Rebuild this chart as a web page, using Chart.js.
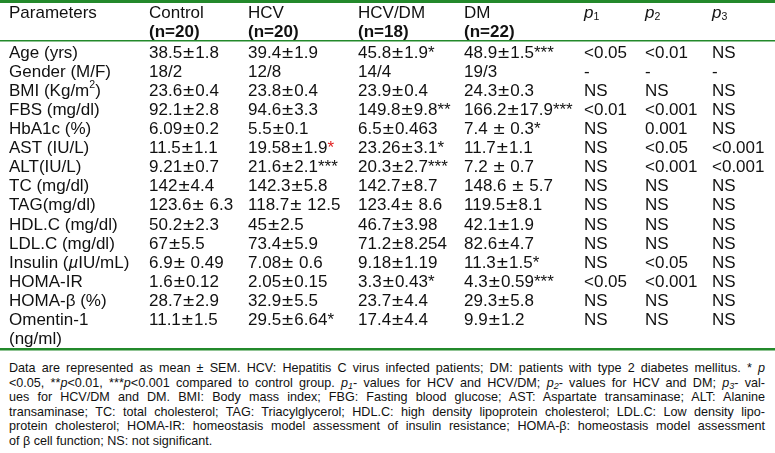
<!DOCTYPE html>
<html>
<head>
<meta charset="utf-8">
<script src="https://cdn.jsdelivr.net/npm/chart.js@4.4.1/dist/chart.umd.min.js"></script>
<style>
  body { margin: 0; background: #fff; width: 775px; height: 453px; overflow: hidden; font-family: "Liberation Sans", Arial, sans-serif; }
  #wrap { position: relative; width: 775px; height: 352px; }
  #note { position: absolute; left: 9px; top: 361px; width: 756px; font-size: 12.6px; line-height: 14.6px; color: #111; }
  #note div { text-align: justify; text-align-last: justify; }
  #note div.last { text-align-last: left; }
  #note sub { font-size: 9px; vertical-align: -2px; line-height: 0; }
</style>
</head>
<body>
<div id="wrap"><canvas id="tbl" width="775" height="352"></canvas></div>
<div id="note">
  <div>Data are represented as mean ± SEM. HCV: Hepatitis C virus infected patients; DM: patients with type 2 diabetes mellitus. * <i>p</i></div>
  <div>&lt;0.05, **<i>p</i>&lt;0.01, ***<i>p</i>&lt;0.001 compared to control group. <i>p<sub>1</sub></i>- values for HCV and HCV/DM; <i>p<sub>2</sub></i>- values for HCV and DM; <i>p<sub>3</sub></i>- val-</div>
  <div>ues for HCV/DM and DM. BMI: Body mass index; FBG: Fasting blood glucose; AST: Aspartate transaminase; ALT: Alanine</div>
  <div>transaminase; TC: total cholesterol; TAG: Triacylglycerol; HDL.C: high density lipoprotein cholesterol; LDL.C: Low density lipo-</div>
  <div>protein cholesterol; HOMA-IR: homeostasis model assessment of insulin resistance; HOMA-β: homeostasis model assessment</div>
  <div class="last">of β cell function; NS: not significant.</div>
</div>
<script>
// table content  (^{..} superscript, _{..} subscript, $i{..} italic, $r{..} red)
const headers = ["Parameters", "Control", "HCV", "HCV/DM", "DM", "$i{p}_{1}", "$i{p}_{2}", "$i{p}_{3}"];
const groupSizes = ["", "(n=20)", "(n=20)", "(n=18)", "(n=22)", "", "", ""];
const parameters = ["Age (yrs)", "Gender (M/F)", "BMI (Kg/m^{2})", "FBS (mg/dl)", "HbA1c (%)", "AST (IU/L)", "ALT(IU/L)",
    "TC (mg/dl)", "TAG(mg/dl)", "HDL.C (mg/dl)", "LDL.C (mg/dl)", "Insulin ($i{µ}IU/mL)", "HOMA-IR", "HOMA-β (%)", "Omentin-1\n(ng/ml)"];
const control = ["38.5±1.8", "18/2", "23.6±0.4", "92.1±2.8", "6.09±0.2", "11.5±1.1", "9.21±0.7", "142±4.4", "123.6± 6.3",
    "50.2±2.3", "67±5.5", "6.9± 0.49", "1.6±0.12", "28.7±2.9", "11.1±1.5"];
const hcv = ["39.4±1.9", "12/8", "23.8±0.4", "94.6±3.3", "5.5±0.1", "19.58±1.9$r{*}", "21.6±2.1***", "142.3±5.8", "118.7± 12.5",
    "45±2.5", "73.4±5.9", "7.08± 0.6", "2.05±0.15", "32.9±5.5", "29.5±6.64*"];
const hcvDm = ["45.8±1.9*", "14/4", "23.9±0.4", "149.8±9.8**", "6.5±0.463", "23.26±3.1*", "20.3±2.7***", "142.7±8.7", "123.4± 8.6",
    "46.7±3.98", "71.2±8.254", "9.18±1.19", "3.3±0.43*", "23.7±4.4", "17.4±4.4"];
const dm = ["48.9±1.5***", "19/3", "24.3±0.3", "166.2±17.9***", "7.4 ± 0.3*", "11.7±1.1", "7.2 ± 0.7", "148.6 ± 5.7", "119.5±8.1",
    "42.1±1.9", "82.6±4.7", "11.3±1.5*", "4.3±0.59***", "29.3±5.8", "9.9±1.2"];
const p1 = ["<0.05", "-", "NS", "<0.01", "NS", "NS", "NS", "NS", "NS", "NS", "NS", "NS", "<0.05", "NS", "NS"];
const p2 = ["<0.01", "-", "NS", "<0.001", "0.001", "<0.05", "<0.001", "NS", "NS", "NS", "NS", "<0.05", "<0.001", "NS", "NS"];
const p3 = ["NS", "-", "NS", "NS", "NS", "<0.001", "<0.001", "NS", "NS", "NS", "NS", "NS", "NS", "NS", "NS"];

const columns = [parameters, control, hcv, hcvDm, dm, p1, p2, p3];

// layout
const colX = [9, 149, 248, 358, 464, 584, 645, 712];
const FONT = "'Liberation Sans', Arial, sans-serif";
const SIZE = 17;
const PM_W = SIZE * 0.78;   // the ± in the source is wider than Arial's
const GREEN = '#23892b';
const INK = '#111';

function drawPlain(ctx, t, x, y) {
    t.split(/(±)/).filter(s => s).forEach(s => {
        if (s === '±') {
            const w = ctx.measureText(s).width;
            ctx.save();
            ctx.translate(x + PM_W / 2, y);
            ctx.scale(1.2, 1);
            ctx.fillText(s, -w / 2, 0);
            ctx.restore();
            x += PM_W;
        } else {
            ctx.fillText(s, x, y);
            x += ctx.measureText(s).width;
        }
    });
    return x;
}

function drawRich(ctx, str, x, y, bold) {
    const parts = str.split(/(\^\{[^}]*\}|_\{[^}]*\}|\$i\{[^}]*\}|\$r\{[^}]*\})/).filter(s => s);
    parts.forEach(p => {
        let t = p, size = SIZE, dy = 0, style = bold ? 'bold ' : '', color = INK;
        if (p.startsWith('^{')) { t = p.slice(2, -1); size = SIZE * 0.62; dy = -SIZE * 0.38; }
        else if (p.startsWith('_{')) { t = p.slice(2, -1); size = SIZE * 0.62; dy = SIZE * 0.22; }
        else if (p.startsWith('$i{')) { t = p.slice(3, -1); style = 'italic ' + style; }
        else if (p.startsWith('$r{')) { t = p.slice(3, -1); color = '#e02020'; }
        ctx.font = style + size + 'px ' + FONT;
        ctx.fillStyle = color;
        x = drawPlain(ctx, t, x, y + dy);
    });
}

const ROW0 = 53, ROW_H = 19.1, H = 352;

const tablePlugin = {
    id: 'tableText',
    afterDraw(chart) {
        const ctx = chart.ctx;
        const xs = chart.scales.x, ys = chart.scales.y;
        ctx.save();
        ctx.textBaseline = 'middle';
        ctx.textAlign = 'left';

        // rules
        function rule(v, w) {
            const y = ys.getPixelForValue(v);
            ctx.fillStyle = GREEN;
            ctx.fillRect(0, Math.round(y - w / 2), chart.width, w);
        }
        rule(-2.70, 3);
        rule(-0.64, 1.5);
        rule(15.5, 2.5);

        // header
        headers.forEach((h, c) => drawRich(ctx, h, xs.getPixelForValue(colX[c]), ys.getPixelForValue(-2.09), false));
        groupSizes.forEach((h, c) => { if (h) drawRich(ctx, h, xs.getPixelForValue(colX[c]), ys.getPixelForValue(-1.1), true); });

        // body
        columns.forEach((col, c) => {
            col.forEach((cell, r) => {
                cell.split('\n').forEach((line, k) => {
                    drawRich(ctx, line, xs.getPixelForValue(colX[c]), ys.getPixelForValue(r + k), false);
                });
            });
        });
        ctx.restore();
    }
};

new Chart(document.getElementById('tbl'), {
    type: 'scatter',
    data: { datasets: [{ data: [], pointRadius: 0 }] },
    options: {
        responsive: false,
        animation: false,
        events: [],
        layout: { padding: 0 },
        plugins: { legend: { display: false }, tooltip: { enabled: false } },
        scales: {
            x: { type: 'linear', display: false, min: 0, max: 775 },
            y: { type: 'linear', display: false, reverse: true, min: -ROW0 / ROW_H, max: (H - ROW0) / ROW_H }
        }
    },
    plugins: [tablePlugin]
});
</script>
</body>
</html>
